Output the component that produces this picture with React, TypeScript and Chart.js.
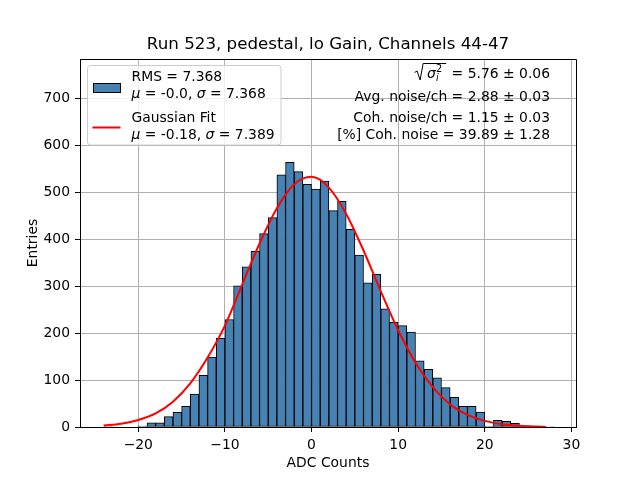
import React, { useEffect, useRef } from "react";
import Chart from "chart.js/auto";

// histogram: lower edge of each 1-count-wide bin and its entries
const binLows = [
  -24, -23, -22, -21, -20, -19, -18, -17, -16, -15, -14, -13, -12, -11, -10, -9,
  -8, -7, -6, -5, -4, -3, -2, -1, 0, 1, 2, 3, 4, 5, 6, 7, 8, 9, 10, 11, 12, 13,
  14, 15, 16, 17, 18, 19, 20, 21, 22, 23, 24, 25, 26, 27,
];
const counts = [
  1, 0, 0, 0, 2, 9, 9, 22, 31, 44, 70, 110, 149, 189, 229, 301, 341, 374, 412,
  446, 537, 564, 544, 517, 507, 524, 461, 481, 421, 366, 307, 325, 252, 223, 216,
  202, 141, 123, 105, 84, 63, 44, 44, 32, 2, 14, 12, 8, 1, 1, 0, 1,
];

// gaussian fit curve
const fitX = [
  -24, -22, -20, -18, -16, -14, -12, -10, -8, -6, -4, -2, 0, 2, 4, 6, 8, 10, 12,
  14, 16, 18, 20, 22, 24, 26, 27,
];
const fitY = [
  3, 7, 15, 29, 54, 93, 148, 216, 304, 391, 466, 517, 533, 510, 454, 376, 289,
  206, 137, 85, 48, 26, 13, 6, 2.5, 1, 0.6,
];

const xTicks = [-20, -10, 0, 10, 20, 30];
const yTicks = [0, 100, 200, 300, 400, 500, 600, 700];

const title = "Run 523, pedestal, lo Gain, Channels 44-47";
const FONT = '"DejaVu Sans"';
const FS = 13.9;

type Run = [string, boolean];

const drawRuns = (
  ctx: CanvasRenderingContext2D,
  runs: Run[],
  x: number,
  y: number,
  align: "left" | "right"
) => {
  const fontOf = (it: boolean) => `${it ? "italic " : ""}${FS}px ${FONT}`;
  let total = 0;
  for (const [t, it] of runs) {
    ctx.font = fontOf(it);
    total += ctx.measureText(t).width;
  }
  let cx = align === "left" ? x : x - total;
  ctx.textAlign = "left";
  ctx.textBaseline = "alphabetic";
  for (const [t, it] of runs) {
    ctx.font = fontOf(it);
    ctx.fillText(t, cx, y);
    cx += ctx.measureText(t).width;
  }
  return align === "left" ? x : x - total;
};

const minus = (v: number) => (v < 0 ? "\u2212" + Math.abs(v) : String(v));

const decorations = {
  id: "decorations",
  afterDraw(chart: any) {
    const ctx: CanvasRenderingContext2D = chart.ctx;
    const a = chart.chartArea;
    ctx.save();
    ctx.fillStyle = "#000";

    // top and right spines
    ctx.strokeStyle = "#000";
    ctx.lineWidth = 1;
    ctx.beginPath();
    ctx.moveTo(a.left, a.top + 0.5);
    ctx.lineTo(a.right + 0.5, a.top + 0.5);
    ctx.lineTo(a.right + 0.5, a.bottom);
    ctx.stroke();

    // title
    ctx.font = `16.7px ${FONT}`;
    ctx.textAlign = "center";
    ctx.textBaseline = "alphabetic";
    ctx.fillText(title, (a.left + a.right) / 2, 49);

    // axis titles
    ctx.font = `${FS}px ${FONT}`;
    ctx.fillText("ADC Counts", (a.left + a.right) / 2, 467);
    ctx.save();
    ctx.translate(36.5, (a.top + a.bottom) / 2);
    ctx.rotate(-Math.PI / 2);
    ctx.fillText("Entries", 0, 0);
    ctx.restore();

    // legend box
    const bx = 87.5, by = 65.5, bw = 193.5, bh = 79.5, r = 3;
    ctx.beginPath();
    ctx.moveTo(bx + r, by);
    ctx.arcTo(bx + bw, by, bx + bw, by + bh, r);
    ctx.arcTo(bx + bw, by + bh, bx, by + bh, r);
    ctx.arcTo(bx, by + bh, bx, by, r);
    ctx.arcTo(bx, by, bx + bw, by, r);
    ctx.closePath();
    ctx.fillStyle = "rgba(255,255,255,0.8)";
    ctx.fill();
    ctx.strokeStyle = "#cccccc";
    ctx.stroke();

    ctx.fillStyle = "#4682b4";
    ctx.fillRect(93.5, 83.5, 27, 9);
    ctx.strokeStyle = "#000";
    ctx.strokeRect(93.5, 83.5, 27, 9);
    ctx.strokeStyle = "red";
    ctx.lineWidth = 2;
    ctx.beginPath();
    ctx.moveTo(92.5, 127.5);
    ctx.lineTo(120.5, 127.5);
    ctx.stroke();

    ctx.fillStyle = "#000";
    drawRuns(ctx, [["RMS = 7.368", false]], 131.5, 81, "left");
    drawRuns(
      ctx,
      [["\u03bc", true], [" = -0.0, ", false], ["\u03c3", true], [" = 7.368", false]],
      131.5, 98, "left"
    );
    drawRuns(ctx, [["Gaussian Fit", false]], 131.5, 122, "left");
    drawRuns(
      ctx,
      [["\u03bc", true], [" = -0.18, ", false], ["\u03c3", true], [" = 7.389", false]],
      131.5, 139, "left"
    );

    // noise summary, right aligned
    const rx = 550;
    const eq = drawRuns(ctx, [["= 5.76 \u00b1 0.06", false]], rx, 78, "right");
    ctx.font = `italic ${FS}px ${FONT}`;
    ctx.textAlign = "left";
    ctx.fillText("\u03c3", eq - 24.5, 78);
    ctx.font = `italic 9.7px ${FONT}`;
    ctx.fillText("i", eq - 15.5, 81);
    ctx.font = `9.7px ${FONT}`;
    ctx.fillText("2", eq - 15.5, 72);
    ctx.strokeStyle = "#000";
    ctx.lineWidth = 1;
    ctx.beginPath();
    ctx.moveTo(eq - 37, 72.5);
    ctx.lineTo(eq - 34.5, 71);
    ctx.lineTo(eq - 31.5, 80);
    ctx.lineTo(eq - 28.5, 63.5);
    ctx.lineTo(eq - 5.5, 63.5);
    ctx.stroke();

    drawRuns(ctx, [["Avg. noise/ch = 2.88 \u00b1 0.03", false]], rx, 101, "right");
    drawRuns(ctx, [["Coh. noise/ch = 1.15 \u00b1 0.03", false]], rx, 122, "right");
    drawRuns(ctx, [["[%] Coh. noise = 39.89 \u00b1 1.28", false]], rx, 138.5, "right");

    ctx.restore();
  },
};

const App = () => {
  const chartRef = useRef<HTMLCanvasElement | null>(null);

  useEffect(() => {
    document.body.style.margin = "0";
    if (!chartRef.current) return;
    const ctx = chartRef.current.getContext("2d");
    if (!ctx) throw new Error("Could not get chart context");

    Chart.defaults.font.family = "DejaVu Sans";
    Chart.defaults.font.size = FS;
    Chart.defaults.color = "#000";

    const myChart = new Chart(ctx, {
      type: "bar",
      data: {
        datasets: [
          {
            type: "line",
            label: "Gaussian Fit",
            data: fitX.map((x, i) => ({ x, y: fitY[i] })),
            borderColor: "red",
            borderWidth: 2,
            pointRadius: 0,
            fill: false,
            cubicInterpolationMode: "monotone",
            order: 0,
          } as any,
          {
            type: "bar",
            label: "RMS",
            data: binLows.map((lo, i) => ({ x: lo + 0.5, y: counts[i] })),
            backgroundColor: "#4682b4",
            borderColor: "#000",
            borderWidth: 1,
            borderSkipped: false,
            barPercentage: 1,
            categoryPercentage: 1,
            order: 1,
          } as any,
        ],
      },
      options: {
        responsive: false,
        animation: false,
        layout: { padding: { top: 59, right: 64, left: 0, bottom: 0 } },
        plugins: { legend: { display: false }, tooltip: { enabled: false } },
        scales: {
          x: {
            type: "linear",
            min: -26.73,
            max: 30.53,
            offset: false,
            afterFit: (s: any) => {
              s.height = 53;
            },
            afterBuildTicks: (s: any) => {
              s.ticks = xTicks.map((value) => ({ value }));
            },
            ticks: {
              stepSize: 10,
              includeBounds: false,
              padding: 5,
              maxRotation: 0,
              callback: (v: any) => minus(Number(v)),
            },
            grid: {
              offset: false,
              color: "#b0b0b0",
              lineWidth: 1,
              tickColor: "#000",
              tickLength: 5,
            },
            border: { color: "#000", width: 1 },
          },
          y: {
            type: "linear",
            min: 0,
            max: 784,
            afterFit: (s: any) => {
              s.width = 80;
            },
            afterBuildTicks: (s: any) => {
              s.ticks = yTicks.map((value) => ({ value }));
            },
            ticks: { stepSize: 100, includeBounds: false, padding: 5 },
            grid: {
              color: "#b0b0b0",
              lineWidth: 1,
              tickColor: "#000",
              tickLength: 5,
            },
            border: { color: "#000", width: 1 },
          },
        },
      } as any,
      plugins: [decorations],
    });

    return () => {
      myChart.destroy();
    };
  }, []);

  return (
    <div style={{ width: 640, height: 480, background: "#fff" }}>
      <canvas ref={chartRef} width={640} height={480} style={{ display: "block" }} />
    </div>
  );
};

export default App;
